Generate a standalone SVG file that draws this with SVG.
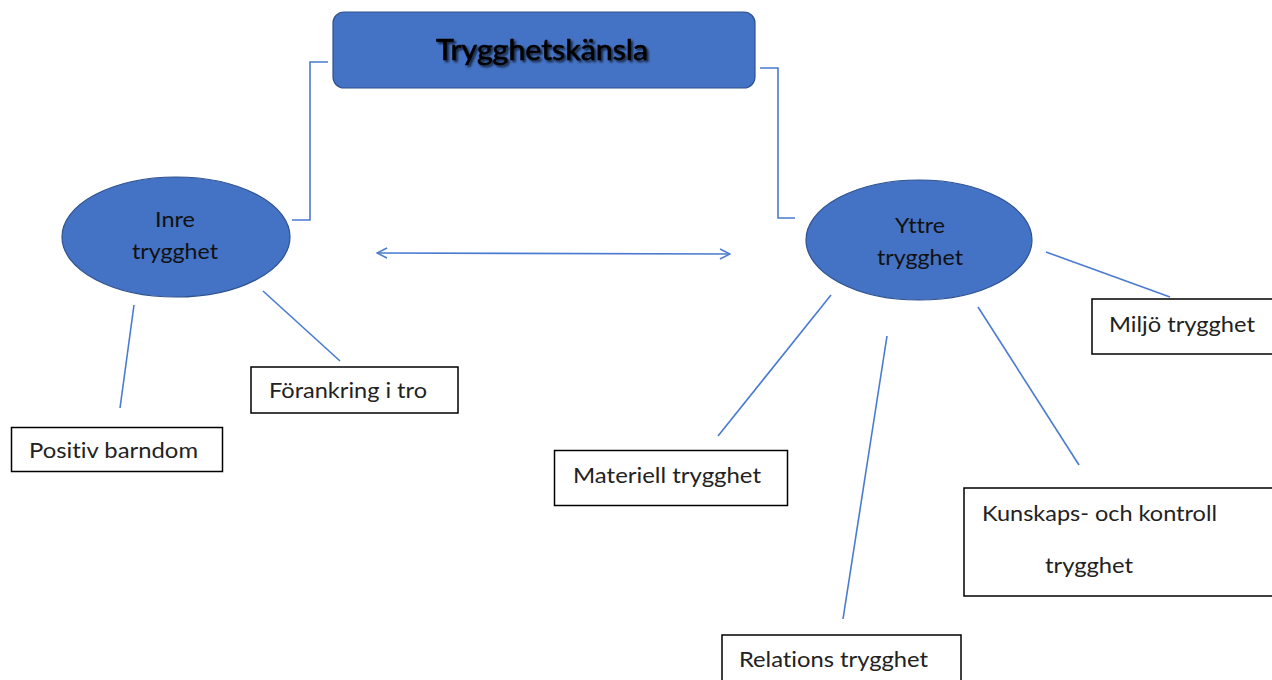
<svg xmlns="http://www.w3.org/2000/svg" width="1272" height="680" viewBox="0 0 1272 680">
<defs>
<filter id="sh" x="-10%" y="-30%" width="130%" height="170%">
<feGaussianBlur in="SourceAlpha" stdDeviation="1.3" result="b"/>
<feOffset in="b" dx="1.5" dy="2" result="o"/>
<feComponentTransfer in="o" result="o2"><feFuncA type="linear" slope="0.7"/></feComponentTransfer>
<feMerge><feMergeNode in="o2"/><feMergeNode in="SourceGraphic"/></feMerge>
</filter>
<marker id="ah" viewBox="0 0 12 12" refX="11" refY="6" markerWidth="12" markerHeight="12" markerUnits="userSpaceOnUse" orient="auto-start-reverse">
<path d="M1,1 L11,6 L1,11" fill="none" stroke="#4A7BD0" stroke-width="1.5"/>
</marker>
<style>
text{font-variant-ligatures:none}
.blue{fill:#4472C4;stroke:#2F528F;stroke-width:1.2}
.box{fill:#fff;stroke:#000;stroke-width:1.5}
.t{font-family:Lato,"Open Sans",sans-serif;font-size:21px;fill:#222}
.et{font-family:Lato,"Open Sans",sans-serif;font-size:21px;fill:#111;text-anchor:middle}
.ln{fill:none;stroke:#4A7BD0;stroke-width:1.6}
</style>
</defs>
<rect width="1272" height="680" fill="#fff"/>
<g id="connectors">
<polyline class="ln" points="328,62 310,62 310,220 292,220"/>
<polyline class="ln" points="760,68 778,68 778,218 795,218"/>
<line class="ln" x1="377" y1="253" x2="730" y2="254" marker-start="url(#ah)" marker-end="url(#ah)"/>
<line class="ln" x1="134" y1="305" x2="120" y2="408"/>
<line class="ln" x1="263" y1="291" x2="340" y2="361"/>
<line class="ln" x1="831" y1="295" x2="718" y2="436"/>
<line class="ln" x1="887" y1="336" x2="843" y2="619"/>
<line class="ln" x1="978" y1="307" x2="1079" y2="465"/>
<line class="ln" x1="1046" y1="252" x2="1170" y2="297"/>
</g>
<g id="trygghetskansla">
<rect class="blue" x="333" y="12" width="422" height="76" rx="11"/>
<text x="542" y="60" text-anchor="middle" font-family="Lato,'Open Sans',sans-serif" font-size="29" fill="#000" stroke="#000" stroke-width="0.6" filter="url(#sh)" textLength="212" lengthAdjust="spacingAndGlyphs">Trygghetskänsla</text>
</g>
<g id="inre">
<ellipse class="blue" cx="176" cy="237" rx="114" ry="60"/>
<text class="et" x="175" y="227" textLength="40" lengthAdjust="spacingAndGlyphs">Inre</text>
<text class="et" x="175" y="259" textLength="86" lengthAdjust="spacingAndGlyphs">trygghet</text>
</g>
<g id="yttre">
<ellipse class="blue" cx="919" cy="240" rx="113" ry="60"/>
<text class="et" x="920" y="233" textLength="50" lengthAdjust="spacingAndGlyphs">Yttre</text>
<text class="et" x="920" y="265" textLength="86" lengthAdjust="spacingAndGlyphs">trygghet</text>
</g>
<g id="positiv">
<rect class="box" x="11.5" y="427.5" width="211" height="44"/>
<text class="t" x="29" y="458" textLength="169" lengthAdjust="spacingAndGlyphs">Positiv barndom</text>
</g>
<g id="forankring">
<rect class="box" x="251" y="367" width="207" height="46"/>
<text class="t" x="269" y="398" textLength="158" lengthAdjust="spacingAndGlyphs">Förankring i tro</text>
</g>
<g id="materiell">
<rect class="box" x="554.5" y="450.5" width="233" height="55"/>
<text class="t" x="573" y="483" textLength="188" lengthAdjust="spacingAndGlyphs">Materiell trygghet</text>
</g>
<g id="miljo">
<rect class="box" x="1092" y="299" width="190" height="55"/>
<text class="t" x="1109" y="332" textLength="146" lengthAdjust="spacingAndGlyphs">Miljö trygghet</text>
</g>
<g id="kunskaps">
<rect class="box" x="964" y="488" width="320" height="108"/>
<text class="t" x="982" y="521" textLength="235" lengthAdjust="spacingAndGlyphs">Kunskaps- och kontroll</text>
<text class="t" x="1045" y="573" textLength="88" lengthAdjust="spacingAndGlyphs">trygghet</text>
</g>
<g id="relations">
<rect class="box" x="722" y="635" width="239" height="60"/>
<text class="t" x="739" y="667" textLength="189" lengthAdjust="spacingAndGlyphs">Relations trygghet</text>
</g>
</svg>
